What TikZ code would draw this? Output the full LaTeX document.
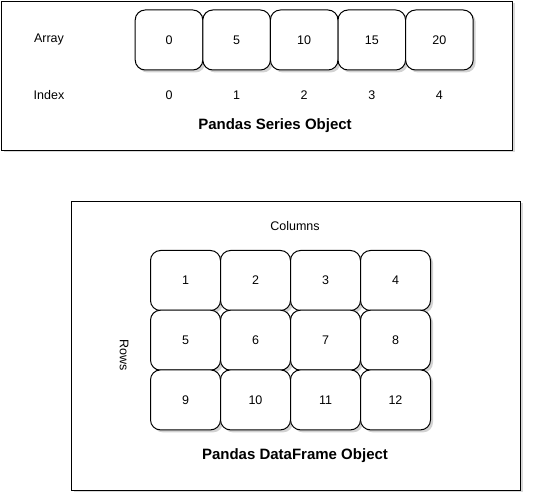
\documentclass[tikz,border=0pt]{standalone}
\usepackage{fontspec}
\setmainfont{Liberation Sans}
\usetikzlibrary{shadows}

\begin{document}
\begin{tikzpicture}[x=1pt,y=-1pt,
  frame/.style={draw=black,fill=white,line width=1pt,inner sep=0pt,anchor=north west,
    drop shadow={opacity=0.3,shadow xshift=2pt,shadow yshift=-2pt}},
  cell/.style={draw=black,fill=white,line width=1pt,rounded corners=10pt,inner sep=0pt,
    minimum height=60pt,font=\fontsize{12.5}{15}\selectfont,
    drop shadow={opacity=0.35,shadow xshift=2.5pt,shadow yshift=-2.5pt}},
  lbl/.style={font=\fontsize{12.5}{15}\selectfont},
  title/.style={font=\bfseries\fontsize{15}{18}\selectfont}]
\useasboundingbox (0,0) rectangle (542,502);

% series
\node[frame,minimum width=511pt,minimum height=149pt] (series) at (1,1) {};
\node[lbl] (array) at (49,40) {Array};
\node[lbl] (index) at (49,95) {Index};
\foreach \v [count=\i from 0] in {0,5,10,15,20} {
  \node[cell,minimum width=67.6pt] (s\i) at (169+67.6*\i,40) {\v};
  \node[lbl] (i\i) at (169+67.6*\i,95) {\i};
}
\node[title] (stitle) at (275,126) {Pandas Series Object};

% dataframe
\node[frame,minimum width=449pt,minimum height=289pt] (frame) at (71,201) {};
\node[lbl] (cols) at (295,226) {Columns};
\node[lbl,rotate=-90] (rows) at (124,355) {Rows};
\foreach \r in {0,1,2} {
  \foreach \c in {0,1,2,3} {
    \pgfmathtruncatemacro{\n}{4*\r+\c+1}
    \node[cell,minimum width=70pt] (d\n) at (185.5+70*\c,280.5+59.7*\r) {\n};
  }
}
\node[title] (dtitle) at (295,456) {Pandas DataFrame Object};
\end{tikzpicture}
\end{document}
